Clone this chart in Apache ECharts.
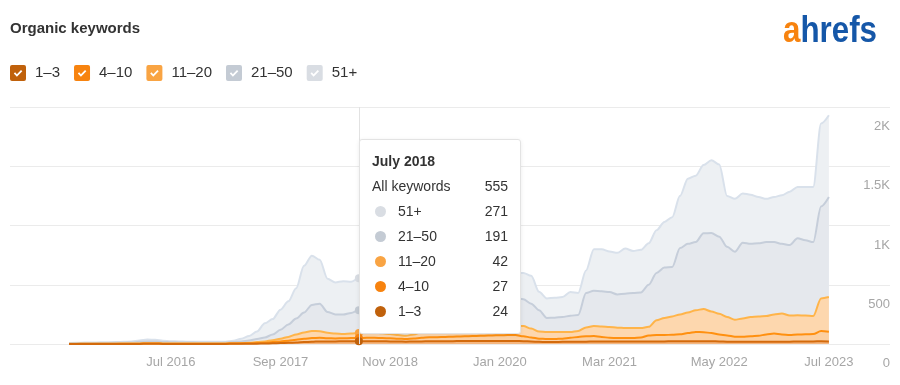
<!DOCTYPE html>
<html><head><meta charset="utf-8">
<script src="https://cdn.jsdelivr.net/npm/echarts@6/dist/echarts.min.js"></script>
<style>html,body{margin:0;padding:0;background:#fff}#c{width:900px;height:385px}</style>
</head><body><div id="c"></div>
<script>
// Months: June 2015 (index 0) .. July 2023 (index 97)
const startYear = 2015, startMonth = 5;
const monthNames = ['January','February','March','April','May','June','July','August','September','October','November','December'];
const xTickIdx = [13, 27, 41, 55, 69, 83, 97];
const xTickLabels = ['Jul 2016', 'Sep 2017', 'Nov 2018', 'Jan 2020', 'Mar 2021', 'May 2022', 'Jul 2023'];
const yTickValues = [0, 500, 1000, 1500, 2000];
const yTickLabels = ['0', '500', '1K', '1.5K', '2K'];
const bandNames = ['1–3', '4–10', '11–20', '21–50', '51+'];
const bandColors = ['#c0610b', '#f7830f', '#f9a443', '#c4cbd4', '#d9dde3'];
const lineColors = ['#c0610b', '#f7830f', '#f9a443', '#b4bcc7', '#c6cdd6'];
const fillColors = ['#f5b781', '#fcd0a2', '#fdd7ae', '#e5e8ed', '#edf0f3'];

// Upper edge of each stacked layer (cumulative keyword counts)
const upTo3 = [0,0,1,1,1,1,1,1,1,1,2,2,1,1,1,1,1,1,1,1,
  1,2,2,3,3,4,6,8,10,13,16,19,22,22,22,23,23,24,
  24,24,23,22,21,20,21,22,23,24,24,24,25,25,25,25,25,25,25,
  25,24,22,18,17,17,18,19,20,20,21,21,21,22,22,22,22,22,22,22,23,23,24,24,24,23,22,20,18,18,19,19,20,20,20,20,21,21,22,23,22];
const upTo10 = [1,1,2,2,2,2,2,2,3,3,4,4,3,3,3,3,3,3,3,3,
  3,4,5,6,8,11,16,22,28,36,44,50,52,48,47,48,50,51,
  52,52,50,48,45,42,46,52,56,58,60,62,64,66,68,70,72,74,75,
  75,65,55,45,42,42,45,52,60,65,67,60,52,50,50,50,55,72,76,76,78,82,92,102,100,92,80,72,62,62,66,70,80,88,80,76,80,82,84,110,104];
const upTo20 = [2,2,3,3,3,3,3,4,4,5,6,6,5,5,4,4,4,4,4,4,
  5,6,8,11,16,22,32,45,60,80,98,110,108,95,88,85,88,93,
  95,95,90,85,75,70,80,100,110,120,125,130,135,138,140,142,145,148,150,
  150,152,130,105,101,101,101,101,110,140,152,148,143,138,135,135,135,145,200,220,232,250,265,285,295,275,255,228,205,215,228,232,236,250,258,240,243,240,236,385,396];
const upTo50 = [5,6,7,7,8,9,10,11,13,18,22,21,17,15,13,12,12,11,11,11,
  12,16,22,30,42,55,80,120,165,215,265,330,340,270,250,248,262,284,
  290,285,270,240,150,110,180,300,330,340,345,350,355,360,365,370,375,380,385,
  385,378,340,285,220,222,228,238,245,430,450,445,438,418,425,430,435,500,600,645,650,810,845,860,935,936,905,820,778,855,845,850,860,860,845,835,892,875,860,1160,1240];
const allKeywords = [8,10,12,12,14,15,16,18,22,30,38,35,28,24,22,20,20,18,18,18,
  20,28,45,68,105,175,210,290,360,470,660,745,710,550,520,530,525,555,
  560,550,520,480,300,200,350,520,560,570,570,575,580,585,585,590,590,595,598,
  598,600,575,440,385,390,396,438,430,620,800,800,780,770,805,785,795,850,960,1030,1070,1250,1395,1420,1510,1550,1515,1250,1225,1270,1260,1240,1225,1240,1255,1285,1325,1325,1325,1860,1930];
const tooltipIndex = 37; // July 2018

const layers = [upTo3, upTo10, upTo20, upTo50, allKeywords];

function monthLabel(i) {
  const m = startMonth + i;
  return monthNames[m % 12] + ' ' + (startYear + Math.floor(m / 12));
}

const checkIcon = 'path://M2,0 H14 Q16,0 16,2 V14 Q16,16 14,16 H2 Q0,16 0,14 V2 Q0,0 2,0 Z M3.8,8.6 L6.9,11.8 L12.3,6.2 L11,4.9 L6.9,9.2 L5.1,7.3 Z';

const chart = echarts.init(document.getElementById('c'), null, {renderer: 'canvas'});
const font = "'Liberation Sans', Arial, Helvetica, sans-serif";

// draw from top layer (51+) to bottom layer (1–3) so lower layers paint over
const series = [];
for (let k = 4; k >= 0; k--) {
  series.push({
    name: bandNames[k],
    type: 'line',
    data: layers[k].map((v, i) => [i, v]),
    smooth: 0.3,
    smoothMonotone: 'x',
    showSymbol: false,
    symbol: 'circle',
    symbolSize: 8,
    itemStyle: {color: bandColors[k]},
    lineStyle: {color: lineColors[k], width: 2},
    areaStyle: {color: fillColors[k], opacity: 1},
    emphasis: {disabled: false, scale: false, focus: 'none', lineStyle: {width: 2}, areaStyle: {color: fillColors[k], opacity: 1}},
    z: 2
  });
}

function tooltipHtml(i) {
  const vals = [];
  for (let k = 0; k < 5; k++) vals.push(layers[k][i] - (k > 0 ? layers[k - 1][i] : 0));
  let h = '<div style="font-family:' + font.replace(/"/g, "'") + ';font-size:14px;color:#333;width:136px;line-height:25px">';
  h += '<div style="font-weight:bold">' + monthLabel(i) + '</div>';
  h += '<div style="display:flex;justify-content:space-between"><span>All keywords</span><span>' + allKeywords[i] + '</span></div>';
  for (let k = 4; k >= 0; k--) {
    h += '<div style="display:flex;justify-content:space-between;align-items:center"><span style="display:flex;align-items:center">' +
      '<span style="display:inline-block;width:11px;height:11px;border-radius:50%;background:' + bandColors[k] + ';margin:0 12px 0 3px"></span>' +
      bandNames[k] + '</span><span>' + vals[k] + '</span></div>';
  }
  return h + '</div>';
}

chart.setOption({
  animation: false,
  backgroundColor: '#fff',
  title: {
    text: 'Organic keywords', left: 10, top: 21, padding: 0,
    textStyle: {fontFamily: font, fontSize: 15, fontWeight: 'bold', color: '#333'}
  },
  graphic: [{
    type: 'text', x: 783, y: 32, scaleX: 0.87,
    style: {
      text: '{a|a}{b|hrefs}', verticalAlign: 'middle',
      rich: {
        a: {fontFamily: font, fontSize: 36, fontWeight: 'bold', fill: '#f7830f'},
        b: {fontFamily: font, fontSize: 36, fontWeight: 'bold', fill: '#1557a8'}
      }
    }
  }],
  legend: {
    left: 10, top: 65, padding: 0, itemGap: 14, itemWidth: 16, itemHeight: 16,
    icon: checkIcon,
    data: bandNames.slice(),
    selectedMode: false,
    textStyle: {fontFamily: font, fontSize: 15, color: '#333', padding: [0, 0, 0, 4]}
  },
  grid: {left: 10, right: 10, top: 107, bottom: 41},
  xAxis: {
    type: 'value', min: -7.53, max: 104.8,
    axisLine: {show: false}, axisTick: {show: false}, splitLine: {show: false},
    axisLabel: {
      customValues: xTickIdx, margin: 12,
      fontFamily: font, fontSize: 13, color: '#a6a6a6',
      formatter: (v) => { const j = xTickIdx.indexOf(Math.round(v)); return j >= 0 ? xTickLabels[j] : ''; }
    },
    axisPointer: {type: 'line', lineStyle: {color: '#e2e2e2', width: 1, type: 'solid'}, label: {show: false}}
  },
  yAxis: {
    type: 'value', position: 'right', min: 0, max: 2000, interval: 500,
    axisLine: {show: false}, axisTick: {show: false},
    splitLine: {lineStyle: {color: '#ebebeb', width: 1}},
    axisLabel: {
      inside: true, margin: 0, verticalAlign: 'top', padding: [13, 0, 0, 0],
      fontFamily: font, fontSize: 13, color: '#a6a6a6',
      formatter: (v) => { const j = yTickValues.indexOf(v); return j >= 0 ? yTickLabels[j] : ''; }
    }
  },
  tooltip: {
    trigger: 'axis', triggerOn: 'none', alwaysShowContent: true,
    backgroundColor: '#fff', borderColor: '#e3e3e3', borderWidth: 1, padding: [9, 12, 9, 12],
    extraCssText: 'box-shadow:0 1px 4px rgba(0,0,0,0.08);border-radius:3px;',
    position: (point) => [point[0], 139],
    formatter: (params) => tooltipHtml(params[0].dataIndex)
  },
  series: series
});
chart.dispatchAction({type: 'showTip', seriesIndex: 0, dataIndex: tooltipIndex});
</script></body></html>
